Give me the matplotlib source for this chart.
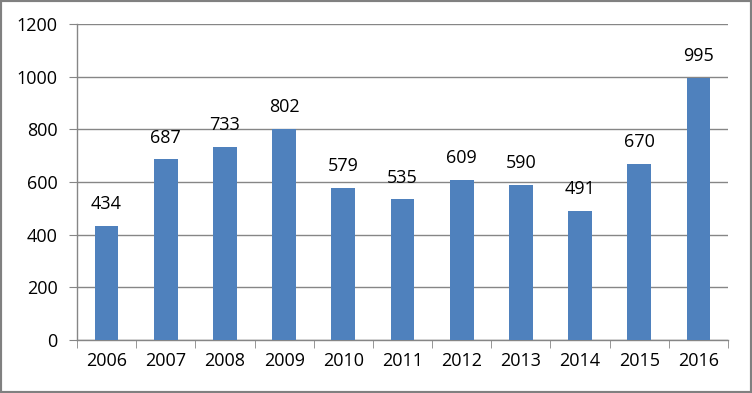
import matplotlib
matplotlib.use("Agg")
import matplotlib.pyplot as plt
from matplotlib.patches import Rectangle

years = ["2006", "2007", "2008", "2009", "2010", "2011", "2012", "2013", "2014", "2015", "2016"]
values = [434, 687, 733, 802, 579, 535, 609, 590, 491, 670, 995]
yticks = [0, 200, 400, 600, 800, 1000, 1200]

plt.rcParams['font.family'] = ['Open Sans', 'DejaVu Sans']

fig = plt.figure(figsize=(7.52, 3.93), dpi=100)
W, H = 752, 393
ax = fig.add_axes([77 / W, 1 - 340 / H, (728 - 77) / W, (340 - 24) / H])

x = list(range(len(years)))
ax.bar(x, values, width=0.4, color="#4F81BD", zorder=3)
for xi, v in zip(x, values):
    ax.annotate(str(v), (xi, v), xytext=(0, 9), textcoords="offset points",
                ha="center", va="bottom", fontsize=13, color="#000000")

ax.set_xlim(-0.5, len(years) - 0.5)
ax.set_ylim(0, 1200)
ax.set_yticks(yticks)
ax.set_yticklabels([str(t) for t in yticks], fontsize=13)
ax.set_xticks(x)
ax.set_xticklabels(years, fontsize=13)
ax.tick_params(axis="x", length=0, pad=9)
ax.set_xticks([i - 0.5 for i in range(len(years) + 1)], minor=True)
ax.tick_params(axis="x", which="minor", length=6, color="#868686", direction="out")
ax.tick_params(axis="y", length=6, color="#868686", direction="out", pad=8)
ax.grid(axis="y", color="#868686", linewidth=1, zorder=0)
for s in ["top", "right"]:
    ax.spines[s].set_visible(False)
for s in ["left", "bottom"]:
    ax.spines[s].set_color("#868686")
    ax.spines[s].set_linewidth(1)

fig.patches.append(Rectangle((0, 0), 1, 1, transform=fig.transFigure, fill=False,
                             edgecolor="#808080", linewidth=3, zorder=10))

fig.savefig("out.png", dpi=100)
